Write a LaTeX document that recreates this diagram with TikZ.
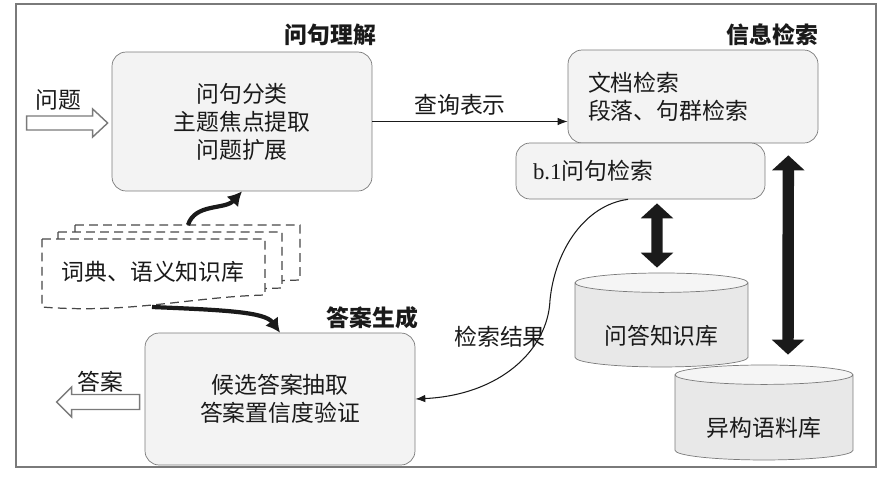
\documentclass[tikz,border=0pt]{standalone}
\usepackage{fontspec}
\setmainfont{Noto Sans CJK SC}
\newfontfamily\latinserif{Liberation Serif}
\usetikzlibrary{arrows.meta,calc,positioning,shapes.geometric}
\definecolor{ink}{HTML}{1A1A1A}
\definecolor{edge}{HTML}{7A7A7A}
\definecolor{boxfill}{HTML}{F3F3F3}
\tikzset{>=Latex,line width=.8pt,
  every node/.style={font=\fontsize{13}{16}\selectfont,text=ink},
  procbox/.style={draw=edge,fill=boxfill,rounded corners=8pt,inner sep=0pt},
  stagetitle/.style={font=\fontsize{13}{16}\selectfont\bfseries,inner sep=1pt},
  kbpage/.style={draw=ink!80,dash pattern=on 5pt off 3pt,fill=white,line width=.7pt},
  flow/.style={->,draw=ink,line width=.6pt},
  curvearrow/.style={-{Latex[length=8pt,width=9pt]},draw=ink,line width=2.4pt},
  bigflow/.style={{Triangle[length=8.5pt,width=18pt]}-{Triangle[length=8.5pt,width=18pt]},
    draw=ink,line width=6.5pt},
  hollow/.style={draw=edge,fill=white,line width=.8pt},
  store/.style={cylinder,shape border rotate=90,aspect=.17,draw=edge,text height=0.8cm,
    cylinder uses custom fill,cylinder body fill=gray!18,cylinder end fill=gray!8,inner sep=0pt}}
\begin{document}
\begin{tikzpicture}[x=0.02cm,y=-0.02cm]
\useasboundingbox (0,0) rectangle (895,478);
\draw[edge,line width=.7pt] (16,4) rectangle (876,467);
% the three stages
\node[procbox,minimum width=5.2cm,minimum height=2.78cm,align=center] (qu) at (242,121.5)
  {问句分类\\主题焦点提取\\问题扩展};
\node[procbox,minimum width=5cm,minimum height=1.86cm,text width=4.2cm,align=left] (ir) at (693,96.5)
  {文档检索\\段落、句群检索};
\node[procbox,minimum width=4.98cm,minimum height=1.12cm,text width=4.3cm,align=left] (b1) at (640.5,171)
  {{\latinserif b.1}问句检索};
\node[procbox,minimum width=5.4cm,minimum height=2.64cm,align=center] (ag) at (280,399)
  {候选答案抽取\\答案置信度验证};
\node[stagetitle,above left=0.08cm and -0.12cm of qu.north east] (qutitle) {问句理解};
\node[stagetitle,above left=0.04cm and -0.04cm of ir.north east] (irtitle) {信息检索};
\node[stagetitle,above left=0.04cm and -0.1cm of ag.north east] (agtitle) {答案生成};
% knowledge stores
\node[store,minimum width=3.46cm,minimum height=1.88cm] (cylqa) at (661.5,325) {问答知识库};
\node[store,minimum width=3.56cm,minimum height=1.9cm] (cylhet) at (764,417.5) {异构语料库};
% dictionary pages, back to front
\path[kbpage] (75,225) -- (300,225) -- (300,280) .. controls (230,282) and (150,292) .. (75,290) -- cycle;
\path[kbpage] (58,232) -- (282,232) -- (282,288) .. controls (210,290) and (130,300) .. (58,298) -- cycle;
\path[kbpage] (42,239) -- (265,239) -- (265,295) .. controls (190,297) and (130,314) .. (42,307) -- cycle;
\node (kb) at (153,272) {词典、语义知识库};
\coordinate (kbtop) at (188,225);
\coordinate (kbbot) at (152,307);
\draw[curvearrow] (kbtop) .. controls (195,203) and (225,210) .. (qu.south);
\draw[curvearrow] (kbbot) .. controls (225,310) and (265,312) .. (ag.north);
% question in, answer out
\coordinate (qtip) at ($(qu.west)+(-4,1.5)$);
\draw[hollow] (qtip) -- ++(-15,-14) -- ++(0,7) -- ++(-66,0) -- ++(0,14) -- ++(66,0) -- ++(0,7) -- cycle;
\node (qlbl) at (58,100) {问题};
\coordinate (atip) at ($(ag.west)+(-88,3)$);
\draw[hollow] (atip) -- ++(15,-15) -- ++(0,7.5) -- ++(68,0) -- ++(0,15) -- ++(-68,0) -- ++(0,7.5) -- cycle;
\node (albl) at (100,382) {答案};
% flows between stages
\draw[flow] (qu.east) -- (qu.east -| ir.west) node[midway,above,xshift=-0.2cm] {查询表示};
\draw[flow] ($(b1.south)+(-12.5,0)$) .. controls (585,205) and (555,250) .. (550,300)
  .. controls (548,350) and (500,395) .. (ag.east);
\node (reslbl) at (500,337) {检索结果};
\draw[bigflow] ($(b1.south)+(16.5,4)$) -- ($(cylqa.north)+(-4.5,-5)$);
\draw[bigflow] ($(ir.south east)+(-30,12)$) -- ($(cylhet.north)+(24,-10)$);
\end{tikzpicture}
\end{document}
